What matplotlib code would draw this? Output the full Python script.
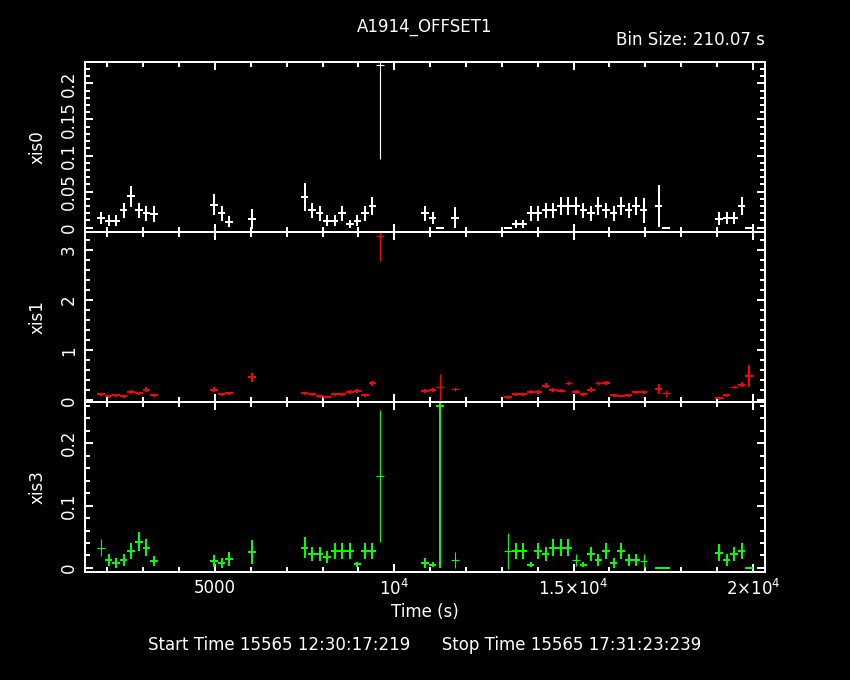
import matplotlib
matplotlib.use('Agg')
import matplotlib.pyplot as plt
from matplotlib.ticker import MultipleLocator, FixedLocator, FixedFormatter
import numpy as np

# light curve bins (bin number from start), 210.07 s bins
t_start = 1827.0
bin_size = 210.07
bins = [0, 1, 2, 3, 4, 5, 6, 7, 15, 16, 17, 20,
        27, 28, 29, 30, 31, 32, 33, 34, 35, 36, 37,
        43, 44, 45, 47, 54, 55, 56, 57, 58, 59, 60, 61, 62, 63, 64, 65,
        66, 67, 68, 69, 70, 71, 72, 74, 75, 82, 83, 84, 85, 86]

# xis0 rate and error
xis0 = [0.0139, 0.0097, 0.0097, 0.0240, 0.0435, 0.0240, 0.0199, 0.0185, 0.0319, 0.0199, 0.0083, 0.0125,
        0.0421, 0.0240, 0.0199, 0.0097, 0.0097, 0.0199, 0.0050, 0.0097, 0.0199, 0.0296, 0.2254,
        0.0199, 0.0139, 0.0, 0.0139, 0.0, 0.0050, 0.0050, 0.0199, 0.0199, 0.0240, 0.0240, 0.0296, 0.0296, 0.0296, 0.0240, 0.0199,
        0.0296, 0.0240, 0.0199, 0.0296, 0.0240, 0.0296, 0.0240, 0.0296, 0.0, 0.0125, 0.0139, 0.0139, 0.0296, 0.0]
xis0_err = [0.0083, 0.0072, 0.0072, 0.0106, 0.0144, 0.0106, 0.0104, 0.0110, 0.0144, 0.0104, 0.0080, 0.0137,
            0.0192, 0.0106, 0.0104, 0.0072, 0.0072, 0.0104, 0.0050, 0.0072, 0.0104, 0.0123, 0.1300,
            0.0104, 0.0083, 0.0, 0.0144, 0.0, 0.0050, 0.0050, 0.0104, 0.0104, 0.0106, 0.0106, 0.0123, 0.0123, 0.0123, 0.0106, 0.0104,
            0.0123, 0.0106, 0.0104, 0.0123, 0.0106, 0.0123, 0.0174, 0.0290, 0.0, 0.0093, 0.0083, 0.0083, 0.0123, 0.0]
xis0_low = [37]

# xis1
xis1 = [0.12, 0.08, 0.10, 0.08, 0.16, 0.14, 0.206, 0.10, 0.206, 0.12, 0.14, 0.46,
        0.14, 0.12, 0.08, 0.06, 0.12, 0.12, 0.166, 0.186, 0.10, 0.34, 3.286,
        0.18, 0.206, 0.26, 0.226, 0.06, 0.12, 0.12, 0.166, 0.166, 0.286, 0.206, 0.186, 0.34, 0.166, 0.12, 0.206,
        0.34, 0.34, 0.10, 0.08, 0.10, 0.16, 0.16, 0.226, 0.14, 0.04, 0.10, 0.266, 0.306, 0.486]
xis1_err = [0.03, 0.025, 0.03, 0.025, 0.04, 0.035, 0.05, 0.03, 0.05, 0.03, 0.035, 0.087,
            0.035, 0.03, 0.025, 0.02, 0.03, 0.03, 0.04, 0.04, 0.03, 0.05, 0.51,
            0.04, 0.045, 0.26, 0.04, 0.025, 0.025, 0.025, 0.03, 0.03, 0.05, 0.04, 0.03, 0.04, 0.03, 0.03, 0.05,
            0.04, 0.04, 0.025, 0.02, 0.025, 0.03, 0.03, 0.09, 0.07, 0.03, 0.025, 0.03, 0.05, 0.22]
xis1_low = [37, 45, 47, 62, 66, 75, 84]

# xis3
xis3 = [0.0327, 0.0129, 0.0080, 0.0129, 0.0274, 0.0424, 0.0327, 0.0113, 0.0113, 0.0080, 0.0145, 0.0258,
        0.0327, 0.0226, 0.0226, 0.0177, 0.0274, 0.0274, 0.0274, 0.0059, 0.0274, 0.0274, 0.148,
        0.0085, 0.0053, 0.26, 0.0129, 0.0274, 0.0274, 0.0274, 0.0053, 0.0274, 0.0226, 0.0327, 0.0327, 0.0327, 0.0129, 0.0053, 0.0226,
        0.0129, 0.0274, 0.0085, 0.0274, 0.0129, 0.0129, 0.0113, 0.0, 0.0, 0.0242, 0.0129, 0.0226, 0.0274, 0.0]
xis3_err = [0.0134, 0.0097, 0.0078, 0.0097, 0.0126, 0.0150, 0.0134, 0.0086, 0.0090, 0.0078, 0.0118, 0.0190,
            0.0167, 0.0113, 0.0113, 0.0102, 0.0126, 0.0126, 0.0126, 0.0040, 0.0126, 0.0126, 0.106,
            0.0078, 0.0040, 0.26, 0.0134, 0.0290, 0.0126, 0.0126, 0.0040, 0.0126, 0.0113, 0.0134, 0.0134, 0.0134, 0.0097, 0.0040, 0.0113,
            0.0097, 0.0126, 0.0078, 0.0126, 0.0097, 0.0097, 0.0115, 0.0, 0.0, 0.0137, 0.0097, 0.0113, 0.0126, 0.0]
xis3_low = [0, 37, 47, 54, 63, 72]

names = ['xis0', 'xis1', 'xis3']
colors = ['white', '#ff0000', '#00ff00']

t = t_start + np.array(bins) * bin_size

fig = plt.figure(figsize=(8.5, 6.8), dpi=100, facecolor='black')
lw = 1.44
fs = 12

panels = [
    (xis0, xis0_err, xis0_low, (-0.006, 0.2296), 0.01, [0, 0.05, 0.1, 0.15, 0.2], ['0', '0.05', '0.1', '0.15', '0.2']),
    (xis1, xis1_err, xis1_low, (-0.034, 3.36), 0.2, [0, 1, 2, 3], ['0', '1', '2', '3']),
    (xis3, xis3_err, xis3_low, (-0.0065, 0.266), 0.02, [0, 0.1, 0.2], ['0', '0.1', '0.2']),
]

bottoms = [0.6588, 0.4088, 0.1588]
for i, (y, ye, low, ylim, minor, yt, ytl) in enumerate(panels):
    ax = fig.add_axes([0.1, bottoms[i], 0.8, 0.25])
    ax.set_facecolor('black')
    y = np.array(y)
    ye = np.array(ye)
    thin = np.isin(bins, low)
    ax.errorbar(t[~thin], y[~thin], xerr=bin_size / 2, yerr=ye[~thin], fmt='none',
                ecolor=colors[i], elinewidth=lw, capsize=0)
    ax.errorbar(t[thin], y[thin], xerr=bin_size / 2, yerr=ye[thin], fmt='none',
                ecolor=colors[i], elinewidth=0.8, capsize=0)
    ax.set_xlim(1379, 20335)
    ax.set_ylim(*ylim)
    for s in ax.spines.values():
        s.set_color('white')
        s.set_linewidth(lw)
    ax.xaxis.set_major_locator(FixedLocator([5000, 10000, 15000, 20000]))
    ax.xaxis.set_minor_locator(MultipleLocator(1000))
    ax.yaxis.set_major_locator(FixedLocator(yt))
    ax.yaxis.set_major_formatter(FixedFormatter(ytl))
    ax.yaxis.set_minor_locator(MultipleLocator(minor))
    ax.tick_params(which='both', direction='in', top=True, right=True, colors='white',
                   width=lw, labelsize=fs, labelcolor='white')
    ax.tick_params(which='major', length=6)
    ax.tick_params(which='minor', length=3.5)
    ax.tick_params(axis='y', pad=5)
    for lab in ax.get_yticklabels():
        lab.set_rotation(90)
        lab.set_va('center')
    ax.set_ylabel(names[i], color='white', fontsize=fs, labelpad=10)
    if i < 2:
        ax.tick_params(axis='x', labelbottom=False)
    else:
        ax.xaxis.set_major_formatter(FixedFormatter(['5000', r'$10^4$', r'$1.5{\times}10^4$', r'$2{\times}10^4$']))
        ax.tick_params(axis='x', pad=5)
        ax.set_xlabel('Time (s)', color='white', fontsize=fs, labelpad=3)

fig.text(0.5, 1 - 27 / 680, 'A1914_OFFSET1', color='white', fontsize=fs, ha='center', va='center')
fig.text(0.9, 1 - 40 / 680, 'Bin Size: 210.07 s', color='white', fontsize=fs, ha='right', va='center')
fig.text(0.5, 1 - 645 / 680, 'Start Time 15565 12:30:17:219      Stop Time 15565 17:31:23:239',
         color='white', fontsize=fs, ha='center', va='center')

fig.savefig('out.png', dpi=100, facecolor='black')
